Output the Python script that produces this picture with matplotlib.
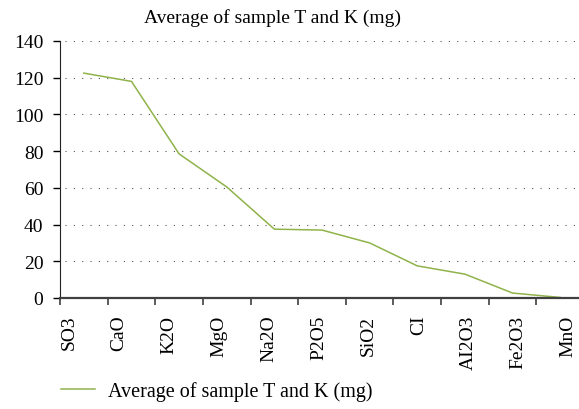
import matplotlib.pyplot as plt
import numpy as np

compounds = ["SO3", "CaO", "K2O", "MgO", "Na2O", "P2O5", "SiO2", "CI", "AI2O3", "Fe2O3", "MnO"]
avg_mg = [122.5, 118.0, 78.5, 60.5, 37.5, 37.0, 30.0, 17.5, 13.0, 2.7, 0.3]
y_ticks = [0, 20, 40, 60, 80, 100, 120, 140]
label = "Average of sample T and K (mg)"


def main():
    plt.rcParams["font.family"] = ["Liberation Serif", "DejaVu Serif"]
    fig = plt.figure(figsize=(5.79, 4.10), dpi=100)
    ax = fig.add_axes([60 / 579, 1 - 299 / 410, 524 / 579, 257 / 410])

    x = np.arange(len(compounds))
    ax.plot(x, avg_mg, color="#8fb34a", lw=1.1, label=label)

    ax.set_xlim(-0.5, len(compounds) - 0.5)
    ax.set_ylim(0, 140)
    ax.set_yticks(y_ticks)
    # category labels sit slightly wider apart than the tick slots
    label_pos = -0.315 + x * 1.048
    ax.set_xticks(label_pos)
    ax.set_xticklabels(compounds, rotation=90)
    ax.set_xticks(np.arange(len(compounds) + 1) - 0.5, minor=True)
    ax.tick_params(axis="x", which="major", length=0, pad=12, labelsize=14)
    ax.tick_params(axis="x", which="minor", length=5, width=1.2, color="#404040", direction="out")
    ax.tick_params(axis="y", length=5, width=1, direction="out", labelsize=14, pad=7)

    ax.yaxis.grid(True, linestyle=(3, (1, 6.5)), color="#555555", lw=0.8)
    ax.set_axisbelow(True)
    for s in ["top", "right"]:
        ax.spines[s].set_visible(False)
    ax.spines["left"].set_color("#222222")
    ax.spines["bottom"].set_color("#404040")
    ax.spines["bottom"].set_linewidth(1.6)

    fig.text(272 / 579, 1 - 18 / 410, label, ha="center", va="center", fontsize=14)
    ax.legend(loc="center left", bbox_to_anchor=(61 / 579, 1 - 392 / 410),
              bbox_transform=fig.transFigure, frameon=False, borderpad=0, borderaxespad=0,
              fontsize=14.5, handlelength=1.7, handletextpad=0.65)

    fig.savefig("out.png", dpi=100)


if __name__ == "__main__":
    main()
